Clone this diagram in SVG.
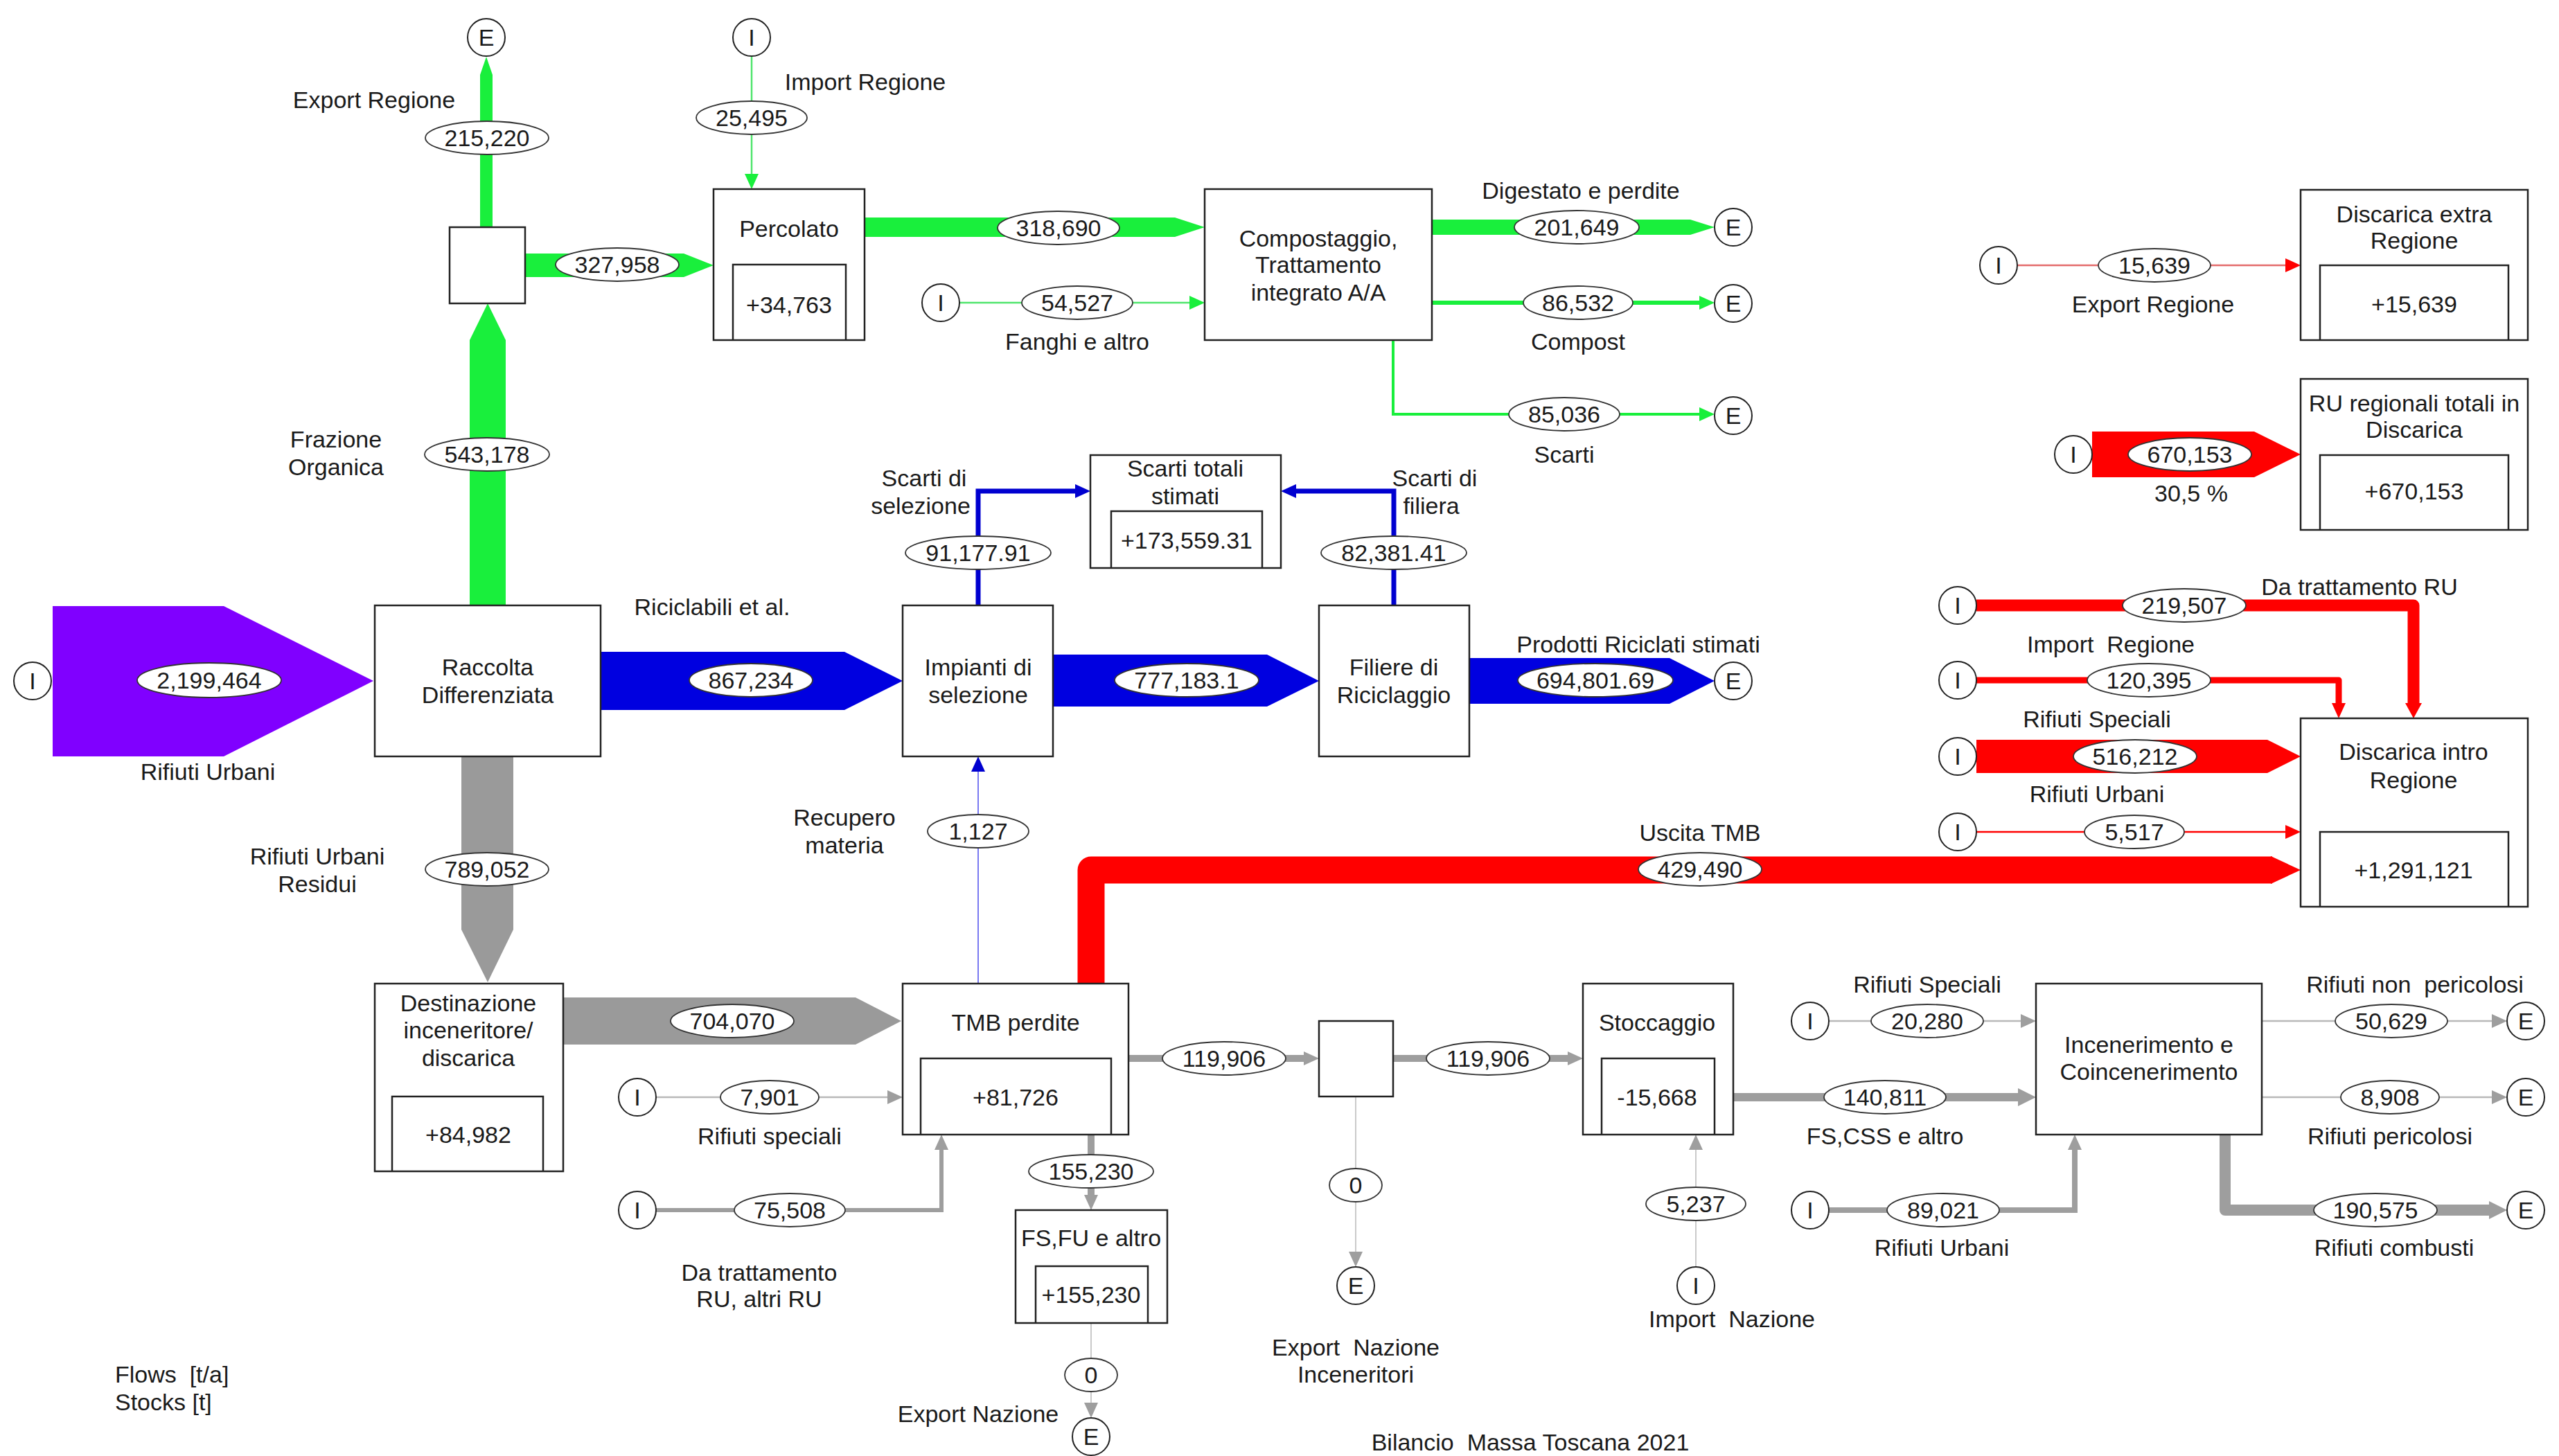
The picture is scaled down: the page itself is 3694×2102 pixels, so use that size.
<svg xmlns="http://www.w3.org/2000/svg" width="3694" height="2102" viewBox="0 0 3694 2102">
<defs>
<style>
text{font-family:"Liberation Sans",Arial,sans-serif;font-size:34px;fill:#1a1a1a;text-anchor:middle}
.lft{text-anchor:start}
.box{fill:#fff;stroke:#222;stroke-width:2.5}
.inner{fill:none;stroke:#222;stroke-width:2.5}
.ep{fill:#fff;stroke:#222;stroke-width:2}
.fl{fill:#fff;stroke:#333;stroke-width:1.8}
.g{fill:#19ef3c}
.gs{fill:none;stroke:#19ef3c}
.gl{fill:none;stroke:#4fe56c}
.b{fill:#0000e0}
.bs{fill:none;stroke:#0000d0}
.bl{fill:none;stroke:#6a6af0}
.r{fill:#ff0000}
.rs{fill:none;stroke:#ff0000}
.rl{fill:none;stroke:#e46a6a}
.p{fill:#8000ff}
.k{fill:#9a9a9a}
.ks{fill:none;stroke:#9e9e9e}
.kl{fill:none;stroke:#b8b8b8}
</style>
<marker id="mg" viewBox="0 0 22 20" markerWidth="22" markerHeight="20" refX="0" refY="10" orient="auto" markerUnits="userSpaceOnUse"><path d="M0,0 L22,10 L0,20 Z" fill="#19ef3c"/></marker>
<marker id="mb" viewBox="0 0 22 20" markerWidth="22" markerHeight="20" refX="0" refY="10" orient="auto" markerUnits="userSpaceOnUse"><path d="M0,0 L22,10 L0,20 Z" fill="#0000d0"/></marker>
<marker id="mr" viewBox="0 0 22 20" markerWidth="22" markerHeight="20" refX="0" refY="10" orient="auto" markerUnits="userSpaceOnUse"><path d="M0,0 L22,10 L0,20 Z" fill="#ff0000"/></marker>
<marker id="mr2" viewBox="0 0 22 24" markerWidth="22" markerHeight="24" refX="0" refY="12" orient="auto" markerUnits="userSpaceOnUse"><path d="M0,0 L22,12 L0,24 Z" fill="#ff0000"/></marker>
<marker id="mk" viewBox="0 0 22 20" markerWidth="22" markerHeight="20" refX="0" refY="10" orient="auto" markerUnits="userSpaceOnUse"><path d="M0,0 L22,10 L0,20 Z" fill="#9e9e9e"/></marker>
<marker id="mk2" viewBox="0 0 26 26" markerWidth="26" markerHeight="26" refX="0" refY="13" orient="auto" markerUnits="userSpaceOnUse"><path d="M0,0 L26,13 L0,26 Z" fill="#9e9e9e"/></marker>
</defs>
<rect width="3694" height="2102" fill="#fff"/>

<g id="connectors">
<!-- purple -->
<polygon class="p" points="76,875 323,875 539,983 323,1092 76,1092"/>
<!-- green -->
<polygon class="g" points="678,874 678,491 704,438 730,491 730,874"/>
<polygon class="g" points="693,328 693,108 702,82 711,108 711,328"/>
<polygon class="g" points="758,366 987,366 1030,383 987,400 758,400"/>
<polygon class="g" points="1248,314 1696,314 1739,328 1696,342 1248,342"/>
<polygon class="g" points="2067,317 2440,317 2475,328 2440,339 2067,339"/>
<line class="gl" x1="1085" y1="81" x2="1085" y2="251" stroke-width="2.5" marker-end="url(#mg)"/>
<line class="gl" x1="1385" y1="437" x2="1717" y2="437" stroke-width="2.5" marker-end="url(#mg)"/>
<line class="gs" x1="2067" y1="437" x2="2453" y2="437" stroke-width="6" marker-end="url(#mg)"/>
<path class="gs" d="M2011,491 V598 H2453" stroke-width="4" marker-end="url(#mg)"/>
<!-- blue -->
<polygon class="b" points="867,941 1219,941 1303,983 1219,1025 867,1025"/>
<polygon class="b" points="1520,945 1829,945 1904,983 1829,1020 1520,1020"/>
<polygon class="b" points="2121,950 2410,950 2475,983 2410,1016 2121,1016"/>
<path class="bs" d="M1412,874 V709 H1552" stroke-width="7" marker-end="url(#mb)"/>
<path class="bs" d="M2012,874 V709 H1871" stroke-width="7" marker-end="url(#mb)"/>
<line class="bl" x1="1412" y1="1420" x2="1412" y2="1114" stroke-width="1.8" marker-end="url(#mb)"/>
<!-- red -->
<path class="rs" d="M1575,1420 V1256 H3280" stroke-width="39" stroke-linejoin="round"/>
<polygon class="r" points="3278,1236 3321,1256 3278,1276"/>
<path class="rs" d="M2853,874 H3484 V1015" stroke-width="17" stroke-linejoin="round" marker-end="url(#mr2)"/>
<path class="rs" d="M2853,982 H3376 V1015" stroke-width="9" stroke-linejoin="round" marker-end="url(#mr)"/>
<polygon class="r" points="2853,1068 3273,1068 3321,1092 3273,1116 2853,1116"/>
<line class="rs" x1="2853" y1="1201" x2="3299" y2="1201" stroke-width="2.5" marker-end="url(#mr)"/>
<line class="rl" x1="2912" y1="383" x2="3299" y2="383" stroke-width="2.5" marker-end="url(#mr)"/>
<polygon class="r" points="3020,623 3254,623 3321,656 3254,689 3020,689"/>
<!-- gray -->
<polygon class="k" points="666,1092 666,1342 704,1418 741,1342 741,1092"/>
<polygon class="k" points="813,1440 1235,1440 1301,1474 1235,1508 813,1508"/>
<line class="kl" x1="947" y1="1584" x2="1281" y2="1584" stroke-width="2.5" marker-end="url(#mk)"/>
<path class="ks" d="M947,1747 H1359 V1660" stroke-width="6" marker-end="url(#mk)"/>
<line class="ks" x1="1575" y1="1638" x2="1575" y2="1725" stroke-width="10" marker-end="url(#mk)"/>
<line class="kl" x1="1575" y1="1910" x2="1575" y2="2025" stroke-width="1.5" marker-end="url(#mk)"/>
<line class="ks" x1="1629" y1="1528" x2="1882" y2="1528" stroke-width="10" marker-end="url(#mk)"/>
<line class="ks" x1="2011" y1="1528" x2="2263" y2="1528" stroke-width="10" marker-end="url(#mk)"/>
<line class="kl" x1="1957" y1="1583" x2="1957" y2="1807" stroke-width="1.5" marker-end="url(#mk)"/>
<line class="kl" x1="2448" y1="1829" x2="2448" y2="1660" stroke-width="1.5" marker-end="url(#mk)"/>
<line class="ks" x1="2502" y1="1584" x2="2913" y2="1584" stroke-width="12" marker-end="url(#mk2)"/>
<line class="kl" x1="2640" y1="1474" x2="2917" y2="1474" stroke-width="2.5" marker-end="url(#mk)"/>
<path class="ks" d="M2640,1747 H2995 V1660" stroke-width="8" marker-end="url(#mk)"/>
<line class="kl" x1="3265" y1="1474" x2="3597" y2="1474" stroke-width="2.5" marker-end="url(#mk)"/>
<line class="kl" x1="3265" y1="1584" x2="3597" y2="1584" stroke-width="2.5" marker-end="url(#mk)"/>
<path class="ks" d="M3212,1638 V1747 H3593" stroke-width="16" stroke-linejoin="round" marker-end="url(#mk2)"/>
</g>

<g id="flow-labels">
<ellipse class="fl" cx="703" cy="199" rx="89" ry="24"/><text x="703" y="211">215,220</text>
<ellipse class="fl" cx="1085" cy="170" rx="80" ry="24"/><text x="1085" y="182">25,495</text>
<ellipse class="fl" cx="891" cy="382" rx="89" ry="24"/><text x="891" y="394">327,958</text>
<ellipse class="fl" cx="703" cy="656" rx="90" ry="24"/><text x="703" y="668">543,178</text>
<ellipse class="fl" cx="1528" cy="329" rx="88" ry="24"/><text x="1528" y="341">318,690</text>
<ellipse class="fl" cx="1555" cy="437" rx="80" ry="24"/><text x="1555" y="449">54,527</text>
<ellipse class="fl" cx="2276" cy="328" rx="90" ry="24"/><text x="2276" y="340">201,649</text>
<ellipse class="fl" cx="2278" cy="437" rx="79" ry="24"/><text x="2278" y="449">86,532</text>
<ellipse class="fl" cx="2258" cy="598" rx="80" ry="24"/><text x="2258" y="610">85,036</text>
<ellipse class="fl" cx="3110" cy="383" rx="81" ry="24"/><text x="3110" y="395">15,639</text>
<ellipse class="fl" cx="3161" cy="656" rx="89" ry="24"/><text x="3161" y="668">670,153</text>
<ellipse class="fl" cx="302" cy="982" rx="104" ry="25"/><text x="302" y="994">2,199,464</text>
<ellipse class="fl" cx="1084" cy="982" rx="89" ry="24"/><text x="1084" y="994">867,234</text>
<ellipse class="fl" cx="703" cy="1255" rx="89" ry="24"/><text x="703" y="1267">789,052</text>
<ellipse class="fl" cx="1412" cy="798" rx="105" ry="24"/><text x="1412" y="810">91,177.91</text>
<ellipse class="fl" cx="2012" cy="798" rx="105" ry="24"/><text x="2012" y="810">82,381.41</text>
<ellipse class="fl" cx="1713" cy="982" rx="104" ry="24"/><text x="1713" y="994">777,183.1</text>
<ellipse class="fl" cx="2303" cy="982" rx="112" ry="24"/><text x="2303" y="994">694,801.69</text>
<ellipse class="fl" cx="1412" cy="1200" rx="73" ry="24"/><text x="1412" y="1212">1,127</text>
<ellipse class="fl" cx="2454" cy="1255" rx="89" ry="24"/><text x="2454" y="1267">429,490</text>
<ellipse class="fl" cx="3153" cy="874" rx="89" ry="24"/><text x="3153" y="886">219,507</text>
<ellipse class="fl" cx="3102" cy="982" rx="89" ry="24"/><text x="3102" y="994">120,395</text>
<ellipse class="fl" cx="3082" cy="1092" rx="89" ry="24"/><text x="3082" y="1104">516,212</text>
<ellipse class="fl" cx="3081" cy="1201" rx="72" ry="24"/><text x="3081" y="1213">5,517</text>
<ellipse class="fl" cx="1057" cy="1474" rx="89" ry="24"/><text x="1057" y="1486">704,070</text>
<ellipse class="fl" cx="1111" cy="1584" rx="71" ry="24"/><text x="1111" y="1596">7,901</text>
<ellipse class="fl" cx="1140" cy="1747" rx="80" ry="24"/><text x="1140" y="1759">75,508</text>
<ellipse class="fl" cx="1575" cy="1691" rx="90" ry="24"/><text x="1575" y="1703">155,230</text>
<ellipse class="fl" cx="1767" cy="1528" rx="89" ry="24"/><text x="1767" y="1540">119,906</text>
<ellipse class="fl" cx="2148" cy="1528" rx="89" ry="24"/><text x="2148" y="1540">119,906</text>
<ellipse class="fl" cx="1957" cy="1711" rx="38" ry="24"/><text x="1957" y="1723">0</text>
<ellipse class="fl" cx="1575" cy="1985" rx="38" ry="24"/><text x="1575" y="1997">0</text>
<ellipse class="fl" cx="2448" cy="1738" rx="72" ry="24"/><text x="2448" y="1750">5,237</text>
<ellipse class="fl" cx="2782" cy="1474" rx="81" ry="24"/><text x="2782" y="1486">20,280</text>
<ellipse class="fl" cx="2721" cy="1584" rx="88" ry="24"/><text x="2721" y="1596">140,811</text>
<ellipse class="fl" cx="2805" cy="1747" rx="81" ry="24"/><text x="2805" y="1759">89,021</text>
<ellipse class="fl" cx="3452" cy="1474" rx="81" ry="24"/><text x="3452" y="1486">50,629</text>
<ellipse class="fl" cx="3450" cy="1584" rx="71" ry="24"/><text x="3450" y="1596">8,908</text>
<ellipse class="fl" cx="3429" cy="1747" rx="89" ry="24"/><text x="3429" y="1759">190,575</text>
</g>

<g id="flow-names">
<text x="540" y="156">Export Regione</text>
<text x="1249" y="130">Import Regione</text>
<text x="485" y="646">Frazione</text>
<text x="485" y="686">Organica</text>
<text x="2282" y="287">Digestato e perdite</text>
<text x="1555" y="505">Fanghi e altro</text>
<text x="2278" y="505">Compost</text>
<text x="2258" y="668">Scarti</text>
<text x="3108" y="451">Export Regione</text>
<text x="3163" y="724">30,5 %</text>
<text x="1334" y="702">Scarti di</text>
<text x="1329" y="742">selezione</text>
<text x="2071" y="702">Scarti di</text>
<text x="2066" y="742">filiera</text>
<text x="1028" y="888">Riciclabili et al.</text>
<text x="300" y="1126">Rifiuti Urbani</text>
<text x="2365" y="942">Prodotti Riciclati stimati</text>
<text x="3406" y="859">Da trattamento RU</text>
<text x="3047" y="942" xml:space="preserve">Import  Regione</text>
<text x="3027" y="1050">Rifiuti Speciali</text>
<text x="3027" y="1158">Rifiuti Urbani</text>
<text x="458" y="1248">Rifiuti Urbani</text>
<text x="458" y="1288">Residui</text>
<text x="1219" y="1192">Recupero</text>
<text x="1219" y="1232">materia</text>
<text x="2454" y="1214">Uscita TMB</text>
<text x="1111" y="1652">Rifiuti speciali</text>
<text x="1096" y="1849">Da trattamento</text>
<text x="1096" y="1887">RU, altri RU</text>
<text class="lft" x="166" y="1996" xml:space="preserve">Flows  [t/a]</text>
<text class="lft" x="166" y="2036">Stocks [t]</text>
<text x="1412" y="2053">Export Nazione</text>
<text x="1957" y="1957" xml:space="preserve">Export  Nazione</text>
<text x="1957" y="1996">Inceneritori</text>
<text x="2500" y="1916" xml:space="preserve">Import  Nazione</text>
<text x="2782" y="1433">Rifiuti Speciali</text>
<text x="2721" y="1652">FS,CSS e altro</text>
<text x="2803" y="1813">Rifiuti Urbani</text>
<text x="3486" y="1433" xml:space="preserve">Rifiuti non  pericolosi</text>
<text x="3450" y="1652">Rifiuti pericolosi</text>
<text x="3456" y="1813">Rifiuti combusti</text>
<text x="2209" y="2094" xml:space="preserve">Bilancio  Massa Toscana 2021</text>
</g>

<g id="raccolta"><rect class="box" x="541" y="874" width="326" height="218"/><text x="704" y="975">Raccolta</text><text x="704" y="1015">Differenziata</text></g>
<g id="split-organico"><rect class="box" x="649" y="328" width="109" height="110"/></g>
<g id="percolato"><rect class="box" x="1030" y="273" width="218" height="218"/><path class="inner" d="M1058,491 V382 H1221 V491"/><text x="1139" y="342">Percolato</text><text x="1139" y="452">+34,763</text></g>
<g id="compostaggio"><rect class="box" x="1739" y="273" width="328" height="218"/><text x="1903" y="356">Compostaggio,</text><text x="1903" y="394">Trattamento</text><text x="1903" y="434">integrato A/A</text></g>
<g id="discarica-extra"><rect class="box" x="3321" y="274" width="328" height="217"/><path class="inner" d="M3349,491 V383 H3621 V491"/><text x="3485" y="321">Discarica extra</text><text x="3485" y="359">Regione</text><text x="3485" y="451">+15,639</text></g>
<g id="ru-discarica"><rect class="box" x="3321" y="547" width="328" height="218"/><path class="inner" d="M3349,765 V657 H3621 V765"/><text x="3485" y="594">RU regionali totali in</text><text x="3485" y="632">Discarica</text><text x="3485" y="721">+670,153</text></g>
<g id="scarti-totali"><rect class="box" x="1574" y="657" width="275" height="163"/><path class="inner" d="M1604,820 V738 H1822 V820"/><text x="1711" y="688">Scarti totali</text><text x="1711" y="728">stimati</text><text x="1713" y="792">+173,559.31</text></g>
<g id="impianti"><rect class="box" x="1303" y="874" width="217" height="218"/><text x="1412" y="975">Impianti di</text><text x="1412" y="1015">selezione</text></g>
<g id="filiere"><rect class="box" x="1904" y="874" width="217" height="218"/><text x="2012" y="975">Filiere di</text><text x="2012" y="1015">Riciclaggio</text></g>
<g id="discarica-intro"><rect class="box" x="3321" y="1037" width="328" height="272"/><path class="inner" d="M3349,1309 V1201 H3621 V1309"/><text x="3484" y="1097">Discarica intro</text><text x="3484" y="1138">Regione</text><text x="3484" y="1268">+1,291,121</text></g>
<g id="destinazione"><rect class="box" x="541" y="1420" width="272" height="271"/><path class="inner" d="M566,1691 V1583 H784 V1691"/><text x="676" y="1460">Destinazione</text><text x="676" y="1499">inceneritore/</text><text x="676" y="1539">discarica</text><text x="676" y="1650">+84,982</text></g>
<g id="tmb"><rect class="box" x="1303" y="1420" width="326" height="218"/><path class="inner" d="M1329,1638 V1528 H1604 V1638"/><text x="1466" y="1488">TMB perdite</text><text x="1466" y="1596">+81,726</text></g>
<g id="fs-fu"><rect class="box" x="1466" y="1747" width="219" height="163"/><path class="inner" d="M1495,1910 V1828 H1657 V1910"/><text x="1575" y="1799">FS,FU e altro</text><text x="1575" y="1881">+155,230</text></g>
<g id="split-tmb"><rect class="box" x="1904" y="1474" width="107" height="109"/></g>
<g id="stoccaggio"><rect class="box" x="2285" y="1420" width="217" height="218"/><path class="inner" d="M2312,1638 V1528 H2475 V1638"/><text x="2392" y="1488">Stoccaggio</text><text x="2392" y="1596">-15,668</text></g>
<g id="incenerimento"><rect class="box" x="2939" y="1420" width="326" height="218"/><text x="3102" y="1520">Incenerimento e</text><text x="3102" y="1559">Coincenerimento</text></g>

<g id="e-export-regione"><circle class="ep" cx="702" cy="54" r="27"/><text x="702" y="66">E</text></g>
<g id="i-import-regione"><circle class="ep" cx="1085" cy="54" r="27"/><text x="1085" y="66">I</text></g>
<g id="i-rifiuti-urbani"><circle class="ep" cx="47" cy="983" r="27"/><text x="47" y="995">I</text></g>
<g id="i-fanghi"><circle class="ep" cx="1358" cy="437" r="27"/><text x="1358" y="449">I</text></g>
<g id="e-digestato"><circle class="ep" cx="2502" cy="328" r="27"/><text x="2502" y="340">E</text></g>
<g id="e-compost"><circle class="ep" cx="2502" cy="438" r="27"/><text x="2502" y="450">E</text></g>
<g id="e-scarti"><circle class="ep" cx="2502" cy="600" r="27"/><text x="2502" y="612">E</text></g>
<g id="i-export-regione"><circle class="ep" cx="2885" cy="383" r="27"/><text x="2885" y="395">I</text></g>
<g id="i-ru-regionali"><circle class="ep" cx="2993" cy="656" r="27"/><text x="2993" y="668">I</text></g>
<g id="e-prodotti"><circle class="ep" cx="2502" cy="983" r="27"/><text x="2502" y="995">E</text></g>
<g id="i-da-trattamento"><circle class="ep" cx="2826" cy="874" r="27"/><text x="2826" y="886">I</text></g>
<g id="i-import-regione2"><circle class="ep" cx="2826" cy="982" r="27"/><text x="2826" y="994">I</text></g>
<g id="i-speciali"><circle class="ep" cx="2826" cy="1092" r="27"/><text x="2826" y="1104">I</text></g>
<g id="i-urbani"><circle class="ep" cx="2826" cy="1201" r="27"/><text x="2826" y="1213">I</text></g>
<g id="i-tmb-speciali"><circle class="ep" cx="920" cy="1584" r="27"/><text x="920" y="1596">I</text></g>
<g id="i-tmb-ru"><circle class="ep" cx="920" cy="1747" r="27"/><text x="920" y="1759">I</text></g>
<g id="e-export-inceneritori"><circle class="ep" cx="1957" cy="1856" r="27"/><text x="1957" y="1868">E</text></g>
<g id="e-export-nazione"><circle class="ep" cx="1575" cy="2074" r="27"/><text x="1575" y="2086">E</text></g>
<g id="i-import-nazione"><circle class="ep" cx="2448" cy="1856" r="27"/><text x="2448" y="1868">I</text></g>
<g id="i-inc-speciali"><circle class="ep" cx="2613" cy="1474" r="27"/><text x="2613" y="1486">I</text></g>
<g id="i-inc-urbani"><circle class="ep" cx="2613" cy="1747" r="27"/><text x="2613" y="1759">I</text></g>
<g id="e-non-pericolosi"><circle class="ep" cx="3646" cy="1474" r="27"/><text x="3646" y="1486">E</text></g>
<g id="e-pericolosi"><circle class="ep" cx="3646" cy="1584" r="27"/><text x="3646" y="1596">E</text></g>
<g id="e-combusti"><circle class="ep" cx="3646" cy="1747" r="27"/><text x="3646" y="1759">E</text></g>
</svg>
